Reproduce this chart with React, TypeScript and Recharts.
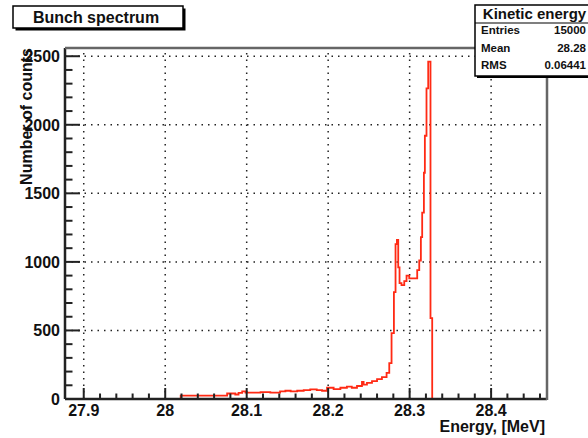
import { LineChart, Line, XAxis, YAxis, ReferenceLine } from 'recharts'

// histogram outline: bin low edges (MeV) where the count changes, and the count from there on
const energy = [
  28.019, 28.019, 28.076, 28.086, 28.09, 28.0945, 28.0985, 28.117, 28.129, 28.141,
  28.1475, 28.154, 28.162, 28.17, 28.178, 28.186, 28.1925, 28.1986, 28.2067, 28.215,
  28.223, 28.229, 28.2354, 28.2415, 28.2435, 28.2476, 28.2538, 28.26, 28.266, 28.2717,
  28.275, 28.2778, 28.2807, 28.2827, 28.2844, 28.286, 28.2876, 28.29, 28.2934, 28.2962,
  28.2995, 28.3093, 28.3118, 28.3138, 28.3154, 28.3175, 28.3187, 28.3207, 28.3228, 28.3256,
  28.3277,
]
const counts = [
  0, 24, 40, 33, 45, 55, 47, 50, 47, 55,
  60, 55, 60, 65, 70, 65, 60, 82, 72, 82,
  90, 82, 95, 125, 105, 118, 130, 145, 160, 190,
  262, 480, 780, 1130, 1160, 960, 845, 830, 860, 900,
  880, 940, 1010, 1180, 1360, 1650, 1920, 2265, 2460, 590,
  0,
]

const xMajor = [27.9, 28, 28.1, 28.2, 28.3, 28.4]
const yMajor = [0, 500, 1000, 1500, 2000, 2500]
const xTickLabels = ['27.9', '28', '28.1', '28.2', '28.3', '28.4']

const statsTitle = 'Kinetic energy'
const statsNames = ['Entries', 'Mean', 'RMS']
const statsValues = ['15000', '28.28', '0.06441']

const X_DOMAIN: [number, number] = [27.877, 28.4686]
const Y_DOMAIN: [number, number] = [0, 2560]

const FONT = '"Liberation Sans", Arial, Helvetica, sans-serif'
const AXIS = '#222'
const RED = '#ff2a14'

// minor ticks every 0.02 MeV / 100 counts
const xTicks: number[] = []
for (let k = 0; k <= 28; k++) xTicks.push(Number((27.9 + k * 0.02).toFixed(2)))
const yTicks: number[] = []
for (let k = 0; k <= 25; k++) yTicks.push(k * 100)

const data = energy.map((e, i) => ({ e, n: counts[i] }))

function XTick(props: any) {
  const { x, y, payload } = props
  const idx = xMajor.findIndex(v => Math.abs(v - payload.value) < 1e-6)
  const major = idx >= 0
  return (
    <g>
      <line x1={x} y1={y} x2={x} y2={y - (major ? 11 : 5.5)} stroke={AXIS} strokeWidth={2} />
      {major && (
        <text x={x} y={y + 16.5} textAnchor="middle" fontFamily={FONT} fontWeight="bold" fontSize={16} fill="#111">
          {xTickLabels[idx]}
        </text>
      )}
    </g>
  )
}

function YTick(props: any) {
  const { x, y, payload } = props
  const major = payload.value % 500 === 0
  return (
    <g>
      <line x1={x} y1={y} x2={x + (major ? 15 : 7.5)} y2={y} stroke={AXIS} strokeWidth={2} />
      {major && (
        <text x={x - 5} y={y + 5.8} textAnchor="end" fontFamily={FONT} fontWeight="bold" fontSize={16} fill="#111">
          {payload.value}
        </text>
      )}
    </g>
  )
}

export default function App() {
  return (
    <div style={{ position: 'relative', width: 588, height: 438, background: '#fff' }}>
      <style>{'body{margin:0}'}</style>
      <LineChart width={588} height={438} data={data} margin={{ top: 48, right: 41, left: 0, bottom: 0 }}>
        {xMajor.map(v => (
          <ReferenceLine key={'gx' + v} x={v} stroke="#222" strokeWidth={1.5} strokeDasharray="1.5 5" />
        ))}
        {yMajor.slice(1).map(v => (
          <ReferenceLine key={'gy' + v} y={v} stroke="#222" strokeWidth={1.5} strokeDasharray="1.5 5" />
        ))}
        <XAxis
          dataKey="e"
          type="number"
          domain={X_DOMAIN}
          allowDataOverflow
          ticks={xTicks}
          interval={0}
          height={39}
          tickSize={0}
          tickMargin={0}
          tickLine={false}
          tick={<XTick />}
          axisLine={{ stroke: AXIS, strokeWidth: 2.5 }}
        />
        <YAxis
          type="number"
          domain={Y_DOMAIN}
          allowDataOverflow
          ticks={yTicks}
          interval={0}
          width={65}
          tickSize={0}
          tickMargin={0}
          tickLine={false}
          tick={<YTick />}
          axisLine={{ stroke: AXIS, strokeWidth: 2.5 }}
        />
        <Line
          type="stepAfter"
          dataKey="n"
          stroke={RED}
          strokeWidth={1.8}
          dot={false}
          activeDot={false}
          isAnimationActive={false}
        />
      </LineChart>

      <svg width={588} height={438} style={{ position: 'absolute', left: 0, top: 0, pointerEvents: 'none' }}>
        {/* frame top and right */}
        <line x1={65} y1={48} x2={548} y2={48} stroke="#666" strokeWidth={2.5} />
        <line x1={547} y1={48} x2={547} y2={400} stroke="#666" strokeWidth={2.5} />

        {/* title box */}
        <rect x={15.5} y={8.5} width={170} height={22} fill="#000" />
        <rect x={13} y={6} width={170} height={22} fill="#fff" stroke="#000" strokeWidth={1.5} />
        <text x={96} y={22.7} textAnchor="middle" fontFamily={FONT} fontWeight="bold" fontSize={16} fill="#111">
          Bunch spectrum
        </text>

        {/* stats box */}
        <rect x={477} y={7} width={120} height={71} fill="#000" />
        <rect x={475} y={5} width={120} height={71} fill="#fff" stroke="#000" strokeWidth={1.5} />
        <line x1={475} y1={23} x2={595} y2={23} stroke="#000" strokeWidth={1.2} />
        <text x={534.5} y={18.5} textAnchor="middle" fontFamily={FONT} fontWeight="bold" fontSize={15} fill="#111">
          {statsTitle}
        </text>
        {statsNames.map((name, i) => (
          <g key={name}>
            <text x={481} y={34 + i * 17.5} fontFamily={FONT} fontWeight="bold" fontSize={11.5} fill="#111">
              {name}
            </text>
            <text x={586} y={34 + i * 17.5} textAnchor="end" fontFamily={FONT} fontWeight="bold" fontSize={11.5} fill="#111">
              {statsValues[i]}
            </text>
          </g>
        ))}

        {/* axis titles */}
        <text x={545} y={432} textAnchor="end" fontFamily={FONT} fontWeight="bold" fontSize={16} fill="#111">
          Energy, [MeV]
        </text>
        <text transform="translate(32,48) rotate(-90)" textAnchor="end" fontFamily={FONT} fontWeight="bold" fontSize={16} fill="#111">
          Number of counts
        </text>
      </svg>
    </div>
  )
}
